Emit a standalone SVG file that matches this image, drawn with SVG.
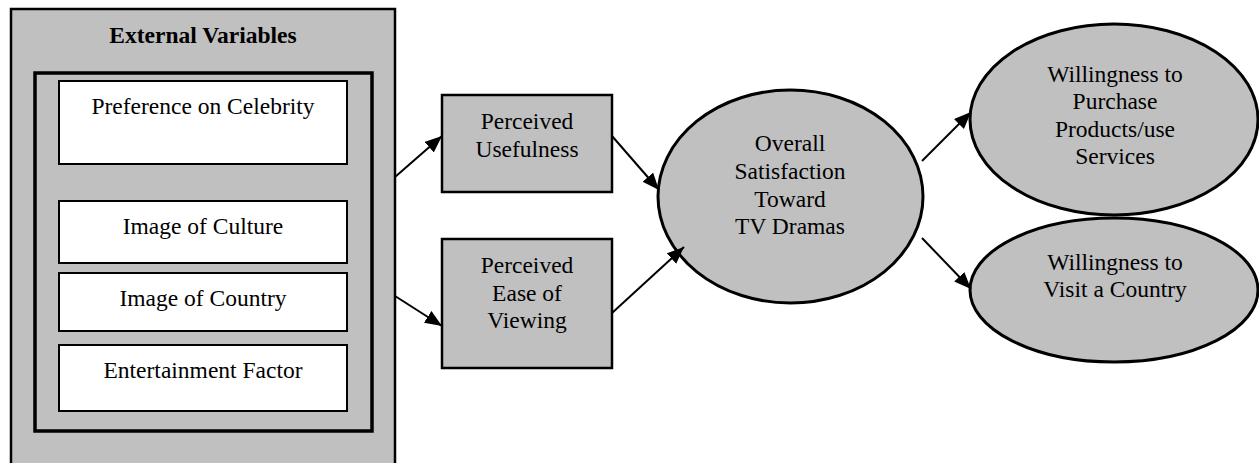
<svg xmlns="http://www.w3.org/2000/svg" width="1259" height="463" viewBox="0 0 1259 463">
<style>
text{font-family:"Liberation Serif","Times New Roman",serif;font-size:23.5px;fill:#000;text-anchor:middle}
.bold{font-weight:bold}
.gray{fill:#c0c0c0;stroke:#000;stroke-width:2.5}
.white{fill:#fff;stroke:#000;stroke-width:2}
.ell{fill:#c0c0c0;stroke:#000;stroke-width:3}
.conn{stroke:#000;stroke-width:2;fill:none;marker-end:url(#arr)}
</style>
<defs>
<marker id="arr" markerUnits="userSpaceOnUse" markerWidth="18" markerHeight="15" refX="17" refY="7" orient="auto">
<path d="M0,0 L17,7 L0,14 z" fill="#000"/>
</marker>
</defs>
<rect width="1259" height="463" fill="#fff"/>
<g id="external-variables">
<rect x="11" y="9" width="384" height="470" class="gray" stroke-width="2"/>
<text x="203" y="43" class="bold">External Variables</text>
<rect x="35" y="73" width="337" height="358" fill="#c0c0c0" stroke="#000" stroke-width="3.5"/>
</g>
<g id="preference-on-celebrity">
<rect x="59" y="81" width="288" height="83" class="white"/>
<text x="203" y="114">Preference on Celebrity</text>
</g>
<g id="image-of-culture">
<rect x="59" y="201" width="288" height="62" class="white"/>
<text x="203" y="234">Image of Culture</text>
</g>
<g id="image-of-country">
<rect x="59" y="273" width="288" height="58" class="white"/>
<text x="203" y="306">Image of Country</text>
</g>
<g id="entertainment-factor">
<rect x="59" y="345" width="288" height="66" class="white"/>
<text x="203" y="378">Entertainment Factor</text>
</g>
<g id="perceived-usefulness">
<rect x="442" y="95" width="170" height="97" class="gray"/>
<text x="527" y="129">Perceived</text>
<text x="527" y="157">Usefulness</text>
</g>
<g id="perceived-ease-of-viewing">
<rect x="442" y="239" width="170" height="129" class="gray"/>
<text x="527" y="273">Perceived</text>
<text x="527" y="301">Ease of</text>
<text x="527" y="328">Viewing</text>
</g>
<g id="overall-satisfaction">
<ellipse cx="790.5" cy="196.5" rx="132.5" ry="106.5" class="ell"/>
<text x="790" y="151">Overall</text>
<text x="790" y="179">Satisfaction</text>
<text x="790" y="207">Toward</text>
<text x="790" y="234">TV Dramas</text>
</g>
<g id="willingness-to-purchase">
<ellipse cx="1114" cy="119.5" rx="144" ry="95.5" class="ell"/>
<text x="1115" y="82">Willingness to</text>
<text x="1115" y="109">Purchase</text>
<text x="1115" y="137">Products/use</text>
<text x="1115" y="164">Services</text>
</g>
<g id="willingness-to-visit">
<ellipse cx="1114" cy="290" rx="144" ry="72" class="ell"/>
<text x="1115" y="270">Willingness to</text>
<text x="1115" y="297">Visit a Country</text>
</g>
<g id="connectors">
<line x1="395" y1="177" x2="442" y2="136" class="conn"/>
<line x1="395" y1="296" x2="442" y2="326" class="conn"/>
<line x1="612" y1="136" x2="659" y2="190" class="conn"/>
<line x1="612" y1="313" x2="684" y2="247" class="conn"/>
<line x1="922" y1="161" x2="971" y2="112" class="conn"/>
<line x1="922" y1="238" x2="971" y2="289" class="conn"/>
</g>
</svg>
